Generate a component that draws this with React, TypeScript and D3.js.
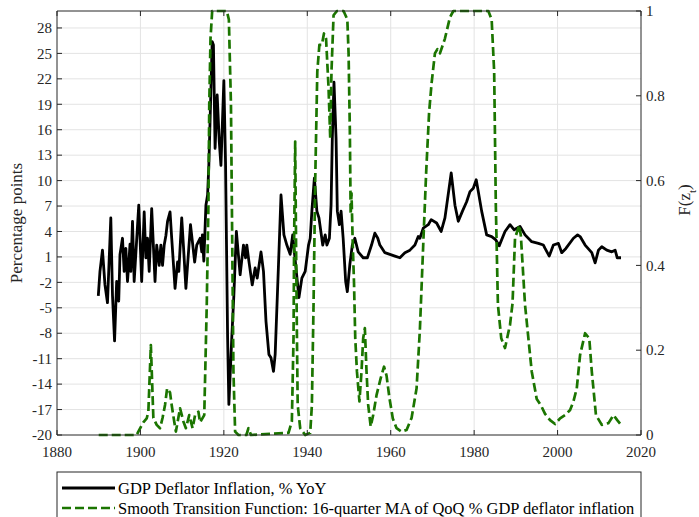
import React from "react";
import * as d3 from "d3";

const gdpYears = [
  1889.9, 1890.3, 1890.9, 1891.5, 1892.1, 1892.9, 1893.3, 1893.8, 1894.3, 1894.8,
  1895.1, 1895.7, 1896.1, 1896.5, 1896.9, 1897.3, 1897.5, 1897.7, 1898.1, 1898.5,
  1899.6, 1900.3, 1900.9, 1901.3, 1901.7, 1902.1, 1902.7, 1903.5, 1903.9, 1904.5,
  1904.9, 1905.3, 1905.7, 1906.1, 1906.5, 1907.1, 1907.5, 1908.3, 1908.9, 1909.2,
  1909.9, 1910.3, 1910.9, 1912.0, 1913.0, 1913.5, 1914.3, 1914.7, 1914.85, 1915.2,
  1915.7, 1916.1, 1916.4, 1916.8, 1917.2, 1917.5, 1917.9, 1918.4, 1918.9, 1919.3,
  1920.0, 1920.4, 1920.9, 1921.2, 1921.9, 1922.4, 1923.0, 1923.9, 1924.7, 1925.2,
  1925.5, 1926.0, 1926.8, 1927.5, 1928.0, 1928.9, 1929.5, 1930.1, 1930.8, 1931.3,
  1931.9, 1932.3, 1933.1, 1933.7, 1934.4, 1935.1, 1935.9, 1936.5, 1936.9, 1938.0,
  1938.7, 1939.5, 1940.3, 1940.7, 1941.1, 1941.7, 1942.3, 1942.8, 1943.7, 1944.3,
  1944.7, 1945.3, 1945.7, 1946.0, 1946.4, 1946.9, 1947.2, 1947.7, 1948.1, 1948.6,
  1949.2, 1949.6, 1950.2, 1950.8, 1951.4, 1952.2, 1953.4, 1954.4, 1955.4, 1956.2,
  1956.9, 1957.4, 1958.6, 1959.8, 1961.0, 1962.2, 1963.4, 1964.6, 1965.8, 1966.6,
  1967.0, 1967.8, 1969.0, 1969.7, 1971.0, 1972.1, 1973.0, 1974.5, 1975.4, 1976.2,
  1977.2, 1978.2, 1979.0, 1979.8, 1980.5, 1981.0, 1981.8, 1983.0, 1984.2, 1985.2,
  1986.0, 1987.4, 1988.6, 1989.6, 1991.0, 1992.2, 1993.8, 1995.4, 1996.6, 1997.0,
  1998.0, 1999.0, 2000.2, 2001.0, 2002.0, 2003.8, 2004.8, 2005.4, 2006.6, 2008.2,
  2009.0, 2009.8, 2010.6, 2011.8, 2013.0, 2013.8, 2014.3, 2015.2,
];
const gdpValues = [
  -3.6, -0.7, 1.8, -2.3, -4.4, 5.6, -3.5, -8.9, -1.9, -4.2,
  1.3, 3.2, -0.7, 2.0, -1.9, 0.9, 2.5, -0.7, 5.2, -1.9,
  7.1, -1.9, 6.3, 0.9, 3.2, -0.7, 6.7, -1.9, 2.4, 0.0,
  2.4, 0.0, 2.4, 3.5, 5.2, 6.3, 3.2, -2.7, 0.4, -0.7,
  5.6, 2.4, -2.7, 4.8, 0.4, 2.4, 3.2, 1.6, 3.6, 0.5,
  7.1, 8.3, 11.8, 18.9, 26.4, 26.0, 13.8, 20.1, 14.6, 11.8,
  21.8, 12.2, -8.5, -16.4, -8.5, -3.5, 4.0, -1.1, 2.4, 0.9,
  2.4, 0.5, -2.3, -0.3, -1.5, 1.6, -0.7, -6.6, -10.5, -10.9,
  -12.5, -10.5, 0.1, 8.3, 3.6, 2.4, 1.3, 3.6, 1.6, -3.8,
  -1.5, -0.7, 2.4, 3.2, 6.4, 10.3, 6.4, 5.6, 2.4, 3.6,
  2.4, 3.2, 7.1, 15.0, 21.6, 15.0, 6.4, 4.8, 6.4, 3.2,
  -1.9, -3.1, 0.1, 2.4, 3.2, 1.6, 0.9, 0.9, 2.4, 3.8,
  3.2, 2.4, 1.5, 1.3, 1.1, 0.9, 1.5, 1.8, 2.4, 3.4,
  3.2, 4.4, 4.8, 5.4, 5.0, 4.0, 5.6, 10.9, 7.1, 5.2,
  6.4, 7.5, 8.7, 9.1, 10.1, 8.7, 6.4, 3.6, 3.4, 3.0,
  2.3, 4.0, 4.8, 4.2, 4.6, 3.6, 2.8, 2.6, 2.4, 2.0,
  1.1, 2.4, 2.6, 1.5, 2.0, 3.2, 3.6, 3.4, 2.4, 1.5,
  0.3, 1.8, 2.2, 1.8, 1.6, 1.8, 0.9, 0.9,
];

const stfYears = [
  1890.0, 1899.1, 1899.5, 1900.7, 1901.5, 1901.9, 1902.5, 1903.1, 1903.9, 1904.7,
  1905.3, 1905.9, 1906.4, 1907.1, 1907.5, 1908.1, 1908.5, 1909.5, 1910.3, 1910.9,
  1911.7, 1912.5, 1913.1, 1913.9, 1914.3, 1915.3, 1915.9, 1916.3, 1916.5, 1916.8,
  1917.2, 1920.7, 1921.2, 1921.7, 1922.0, 1922.3, 1922.7, 1923.5, 1925.4, 1925.9,
  1926.5, 1935.5, 1936.3, 1936.7, 1936.85, 1937.1, 1937.3, 1937.5, 1937.7, 1938.3,
  1939.5, 1940.7, 1941.1, 1941.5, 1941.9, 1942.4, 1942.9, 1943.5, 1944.0, 1944.5,
  1945.1, 1945.5, 1945.8, 1946.3, 1947.1, 1948.7, 1949.6, 1949.9, 1950.2, 1950.4,
  1950.6, 1950.9, 1951.2, 1951.5, 1951.9, 1952.5, 1953.0, 1953.4, 1953.8, 1954.2,
  1954.6, 1955.2, 1955.8, 1956.6, 1957.6, 1958.4, 1959.0, 1959.7, 1960.5, 1961.4,
  1962.6, 1963.8, 1965.0, 1966.2, 1967.0, 1967.8, 1968.5, 1969.2, 1969.8, 1970.6,
  1971.2, 1971.8, 1973.0, 1974.2, 1975.0, 1983.4, 1984.2, 1984.8, 1985.2, 1985.7,
  1986.5, 1987.4, 1988.6, 1989.2, 1989.8, 1990.8, 1991.2, 1992.2, 1993.8, 1995.0,
  1996.0, 1997.0, 1998.2, 1999.4, 2000.6, 2001.8, 2003.0, 2003.8, 2004.6, 2005.4,
  2006.6, 2007.6, 2008.2, 2009.2, 2010.6, 2012.2, 2013.4, 2014.3, 2015.2,
];
const stfValues = [
  0.0, 0.0, 0.008, 0.03, 0.039, 0.055, 0.212, 0.04, 0.024, 0.016,
  0.04, 0.071, 0.11, 0.1, 0.07, 0.032, 0.008, 0.063, 0.032, 0.016,
  0.047, 0.016, 0.047, 0.055, 0.03, 0.047, 0.307, 0.543, 0.78, 0.935,
  1.0, 1.0, 0.98, 0.78, 0.46, 0.15, 0.008, 0.0, 0.0, 0.016,
  0.0, 0.005, 0.032, 0.228, 0.464, 0.692, 0.46, 0.25, 0.071, 0.016,
  0.0, 0.005, 0.07, 0.307, 0.6, 0.857, 0.92, 0.92, 0.947, 0.935,
  0.818, 0.7, 0.857, 0.99, 1.0, 1.0, 0.98, 0.9, 0.72, 0.52,
  0.57, 0.45, 0.36, 0.228, 0.15, 0.079, 0.15, 0.228, 0.252, 0.15,
  0.071, 0.02, 0.047, 0.094, 0.134, 0.161, 0.14, 0.087, 0.039, 0.016,
  0.008, 0.012, 0.04, 0.11, 0.25, 0.45, 0.62, 0.76, 0.83, 0.9,
  0.91, 0.9, 0.935, 0.985, 1.0, 1.0, 0.98, 0.857, 0.54, 0.307,
  0.228, 0.205, 0.26, 0.31, 0.464, 0.495, 0.47, 0.307, 0.15, 0.085,
  0.07, 0.05, 0.035, 0.026, 0.039, 0.047, 0.059, 0.079, 0.11, 0.189,
  0.24, 0.228, 0.15, 0.047, 0.024, 0.028, 0.047, 0.035, 0.024,
];

const xTicks = [1880, 1900, 1920, 1940, 1960, 1980, 2000, 2020];
const leftTicks = [-20, -17, -14, -11, -8, -5, -2, 1, 4, 7, 10, 13, 16, 19, 22, 25, 28];
const rightTicks = [0, 0.2, 0.4, 0.6, 0.8, 1];
const seriesNames = [
  "GDP Deflator Inflation, % YoY",
  "Smooth Transition Function: 16-quarter MA of QoQ % GDP deflator inflation",
];

const W = 699, H = 517;
const L = 57, R = 641, T = 11, B = 435;
const AX = "#262626";
const GRID = "#e3e3e3";
const GREEN = "#1b7500";
const FONT = "'Liberation Serif', 'Times New Roman', Times, serif";

export default function App() {
  const x = d3.scaleLinear().domain([1880, 2020]).range([L, R]);
  const yL = d3.scaleLinear().domain([-20, 30]).range([B, T]);
  const yR = d3.scaleLinear().domain([0, 1]).range([B, T]);

  const gdpLine = d3
    .line<number>()
    .x((_, i) => x(gdpYears[i]))
    .y((d) => yL(d));
  const stfLine = d3
    .line<number>()
    .x((_, i) => x(stfYears[i]))
    .y((d) => yR(d));

  const txt = { fontFamily: FONT };

  return (
    <svg
      width={W}
      height={H}
      style={{ position: "absolute", left: 0, top: 0, background: "#fff", fontFamily: FONT }}
    >
      <rect x={0} y={0} width={W} height={H} fill="#fff" />
      {leftTicks.filter((v) => v > -20).map((v) => (
        <line key={"gh" + v} x1={L} x2={R} y1={yL(v)} y2={yL(v)} stroke={GRID} strokeWidth={1} />
      ))}
      {xTicks.filter((v) => v > 1880 && v < 2020).map((v) => (
        <line key={"gv" + v} x1={x(v)} x2={x(v)} y1={T} y2={B} stroke={GRID} strokeWidth={1} />
      ))}

      <path d={gdpLine(gdpValues) || ""} fill="none" stroke="#000" strokeWidth={2.8} strokeLinejoin="round" />
      <path
        d={stfLine(stfValues) || ""}
        fill="none"
        stroke={GREEN}
        strokeWidth={2.7}
        strokeDasharray="9,4"
        strokeLinejoin="round"
      />

      <line x1={L} x2={R} y1={T} y2={T} stroke={AX} strokeWidth={1} />
      <line x1={L} x2={R} y1={B} y2={B} stroke={AX} strokeWidth={1} />
      <line x1={L} x2={L} y1={T} y2={B} stroke={AX} strokeWidth={1} />
      <line x1={R} x2={R} y1={T} y2={B} stroke={AX} strokeWidth={1} />

      {xTicks.map((v) => (
        <g key={"xt" + v}>
          <line x1={x(v)} x2={x(v)} y1={B} y2={B - 5} stroke={AX} />
          <line x1={x(v)} x2={x(v)} y1={T} y2={T + 5} stroke={AX} />
          <text x={x(v)} y={457} textAnchor="middle" fontSize={15} fill={AX} style={txt}>
            {v}
          </text>
        </g>
      ))}
      {leftTicks.map((v) => (
        <g key={"lt" + v}>
          <line x1={L} x2={L + 5} y1={yL(v)} y2={yL(v)} stroke={AX} />
          <text x={L - 5} y={yL(v)} dy="0.35em" textAnchor="end" fontSize={15} fill={AX} style={txt}>
            {v}
          </text>
        </g>
      ))}
      {rightTicks.map((v) => (
        <g key={"rt" + v}>
          <line x1={R} x2={R - 5} y1={yR(v)} y2={yR(v)} stroke={AX} />
          <text x={R + 5} y={yR(v)} dy="0.35em" textAnchor="start" fontSize={15} fill={AX} style={txt}>
            {String(v)}
          </text>
        </g>
      ))}

      <text
        transform={`translate(16, ${(T + B) / 2}) rotate(-90)`}
        textAnchor="middle"
        dy="0.35em"
        fontSize={17}
        fill={AX}
        style={txt}
      >
        Percentage points
      </text>
      <text
        transform={`translate(684, 200) rotate(-90)`}
        textAnchor="middle"
        dy="0.35em"
        fontSize={17}
        fill={AX}
        style={txt}
      >
        F(z<tspan baselineShift="sub" fontSize={11}>t</tspan>)
      </text>

      <rect x={L} y={472} width={R - L} height={60} fill="#fff" stroke={AX} strokeWidth={1} />
      <line x1={62} x2={115} y1={488} y2={488} stroke="#000" strokeWidth={2.8} />
      <text x={118} y={488} dy="0.35em" fontSize={16.5} fill="#000" style={txt}>
        {seriesNames[0]}
      </text>
      <line x1={62} x2={115} y1={508} y2={508} stroke={GREEN} strokeWidth={2.7} strokeDasharray="9,4" />
      <text x={118} y={508} dy="0.35em" fontSize={16.5} fill="#000" style={txt}>
        {seriesNames[1]}
      </text>
    </svg>
  );
}
